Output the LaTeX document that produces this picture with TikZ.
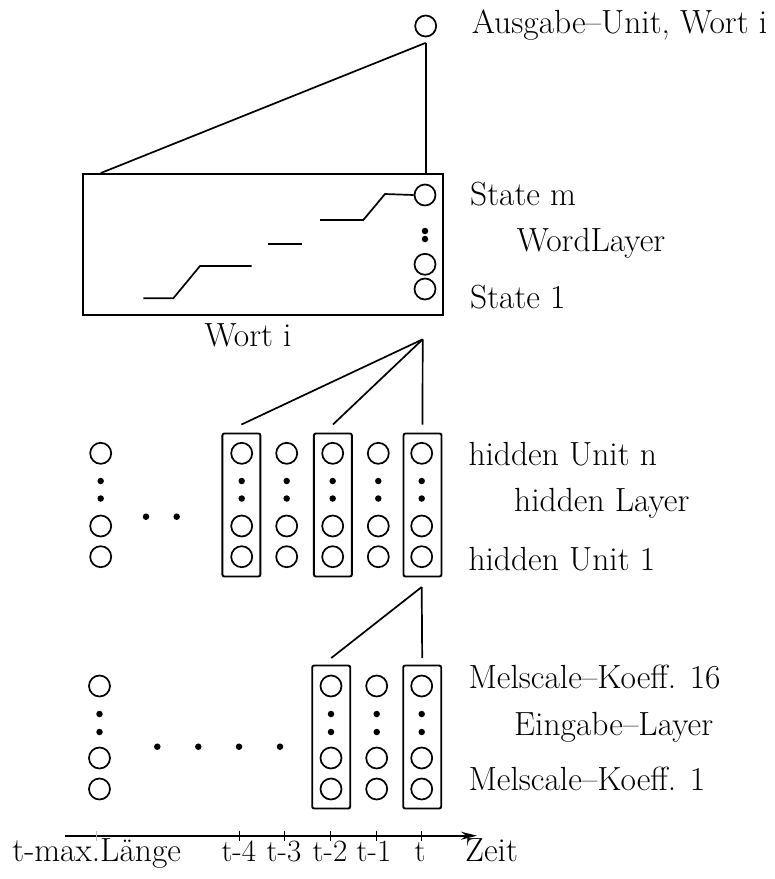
\documentclass[tikz,border=0pt]{standalone}
\usetikzlibrary{arrows.meta}
\begin{document}
\begin{tikzpicture}[x=1pt,y=-1pt,
  lbl/.style={font=\fontsize{33.5}{40}\selectfont, inner sep=0pt, anchor=base west},
  ticklbl/.style={lbl, anchor=base},
  steplbl/.style={ticklbl, font=\fontsize{31}{37}\selectfont},
  unit/.style={draw, circle, line width=1.7pt, minimum size=21pt, inner sep=0pt},
  dotnode/.style={fill, circle, minimum size=6.5pt, inner sep=0pt},
  colbox/.style={draw, line width=1.9pt, rounded corners=2pt, minimum width=38pt, minimum height=143pt, inner sep=0pt},
  wire/.style={line width=1.7pt},
  tickmark/.style={line width=1pt},
]
\useasboundingbox (0,0) rectangle (775,879);

% output unit
\node[unit] (out) at (425.7,26) {};
\node[lbl] (outlbl) at (471.7,33.3) {Ausgabe--Unit, Wort i};

% word layer box with its states
\node[draw, line width=1.9pt, minimum width=360.6pt, minimum height=141pt, inner sep=0pt] (wbox) at (263,244.5) {};
\node[unit] (wA) at (425,195) {};
\node[dotnode] (wd1) at (425,231) {};
\node[dotnode] (wd2) at (425,239) {};
\node[unit] (wB) at (425,264.3) {};
\node[unit] (wC) at (425,289) {};
\draw[wire] (143.3,298.3) -- (173.3,298.3) -- (200,266) -- (251.7,266);
\draw[wire] (268.3,244) -- (301.7,244);
\draw[wire] (320,220) -- (363.3,220) -- (385,194) -- (wA.west);
\node[lbl] (wlblm) at (470,205) {State m};
\node[lbl] (wlbl) at (516.7,251.7) {WordLayer};
\node[lbl] (wlbl1) at (470,308.3) {State 1};
\node[ticklbl] (wort) at (248,346.7) {Wort i};

% output unit to word layer
\coordinate (outfoot) at ([yshift=-5.5pt]out.south);
\draw[wire] (outfoot) -- ([xshift=19pt]wbox.north west);
\draw[wire] (outfoot) -- (outfoot |- wbox.north);

% hidden layer
\foreach \n/\x in {hL/100.7, hA/241.7, hB/286.7, hC/332.7, hD/378.3, hE/421.7} {
  \node[unit] (\n-1) at (\x,453.3) {};
  \node[dotnode] (\n-d1) at (\x,481) {};
  \node[dotnode] (\n-d2) at (\x,498.5) {};
  \node[unit] (\n-2) at (\x,526) {};
  \node[unit] (\n-3) at (\x,556.7) {};
}
\node[dotnode] (hgap1) at (146,516.7) {};
\node[dotnode] (hgap2) at (176.7,516.7) {};
\node[colbox] (hbox1) at (241.4,505) {};
\node[colbox] (hbox2) at (332.9,505) {};
\node[colbox] (hbox3) at (422.5,505) {};
\node[lbl] (hlbln) at (468.3,465) {hidden Unit n};
\node[lbl] (hlbl) at (514,511.7) {hidden Layer};
\node[lbl] (hlbl1) at (468.3,570) {hidden Unit 1};

% hidden layer to word layer
\coordinate (happex) at (422.7,339.3);
\draw[wire] (happex) -- ([yshift=8pt]hbox1.north);
\draw[wire] (happex) -- ([yshift=8pt]hbox2.north);
\draw[wire] (happex) -- ([yshift=8pt]hbox3.north);

% input layer
\foreach \n/\x in {iL/99.5, iA/331, iB/376.7, iC/421.7} {
  \node[unit] (\n-1) at (\x,686) {};
  \node[dotnode] (\n-d1) at (\x,714) {};
  \node[dotnode] (\n-d2) at (\x,732) {};
  \node[unit] (\n-2) at (\x,758) {};
  \node[unit] (\n-3) at (\x,789) {};
}
\foreach \k/\x in {1/157.3, 2/198.3, 3/239, 4/280} {
  \node[dotnode] (igap\k) at (\x,746.7) {};
}
\node[colbox] (ibox1) at (331.2,737) {};
\node[colbox] (ibox2) at (422.2,737) {};
\node[lbl] (ilbln) at (468.3,688.3) {Melscale--Koeff. 16};
\node[lbl] (ilbl) at (514,735) {Eingabe--Layer};
\node[lbl] (ilbl1) at (468.3,790) {Melscale--Koeff. 1};

% input layer to hidden layer
\coordinate (iapex) at (421.7,587);
\draw[wire] (iapex) -- ([yshift=6.5pt]ibox1.north);
\draw[wire] (iapex) -- ([yshift=6.5pt]ibox2.north);

% time axis
\coordinate (axstart) at (65,835.7);
\coordinate (axend) at (477,835.7);
\draw[line width=1.7pt, -{Stealth[length=16pt,width=8pt]}] (axstart) -- (axend);
\draw[tickmark, gray!50] (96.7,830.7) -- (96.7,840.7);
\foreach \x in {239, 284.3, 330, 376, 421.7} {
  \draw[tickmark] (\x,830.7) -- (\x,840.7);
}
\node[ticklbl] (tmax) at (96.7,861) {t-max.Länge};
\node[steplbl] (t4) at (238.8,861) {t-4};
\node[steplbl] (t3) at (284,861) {t-3};
\node[steplbl] (t2) at (330,861) {t-2};
\node[steplbl] (t1) at (374,861) {t-1};
\node[steplbl] (t0) at (420,861) {t};
\node[lbl] (zeit) at (465,861) {Zeit};
\end{tikzpicture}
\end{document}
